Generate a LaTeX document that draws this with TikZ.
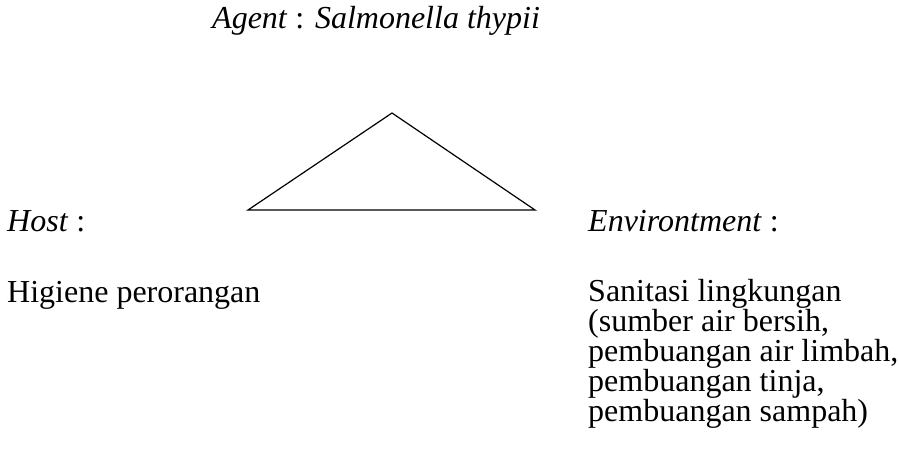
\documentclass[tikz,border=0pt]{standalone}
\usepackage{fontspec}
\setmainfont{Liberation Serif}
\usepackage{tikz}
\usetikzlibrary{positioning}

\tikzset{
  lbl/.style={anchor=base west, inner sep=0pt, font=\fontsize{32}{30}\selectfont, align=left},
  edge/.style={line width=1.2pt, line join=miter}
}

\begin{document}
\begin{tikzpicture}[x=1pt,y=1pt]
\useasboundingbox (0,0) rectangle (899,459);
% Agent
\node[lbl] (agent) at (212,430) {\textit{Agent} : \textit{Salmonella thypii}};
% Triangle
\coordinate (top) at (392,346);
\coordinate (left) at (248,249);
\coordinate (right) at (535,249);
\draw[edge] (top) -- (left) -- (right) -- cycle;
% Host
\node[lbl] (host) at (7,228) {\textit{Host} :};
\node[lbl] (higiene) at (7,157) {Higiene perorangan};
% Environtment
\node[lbl] (env) at (588,228) {\textit{Environtment} :};
\node[lbl, anchor=north west] (sanitasi) at (588,180) {Sanitasi lingkungan\\(sumber air bersih,\\pembuangan air limbah,\\pembuangan tinja,\\pembuangan sampah)};
\end{tikzpicture}
\end{document}
